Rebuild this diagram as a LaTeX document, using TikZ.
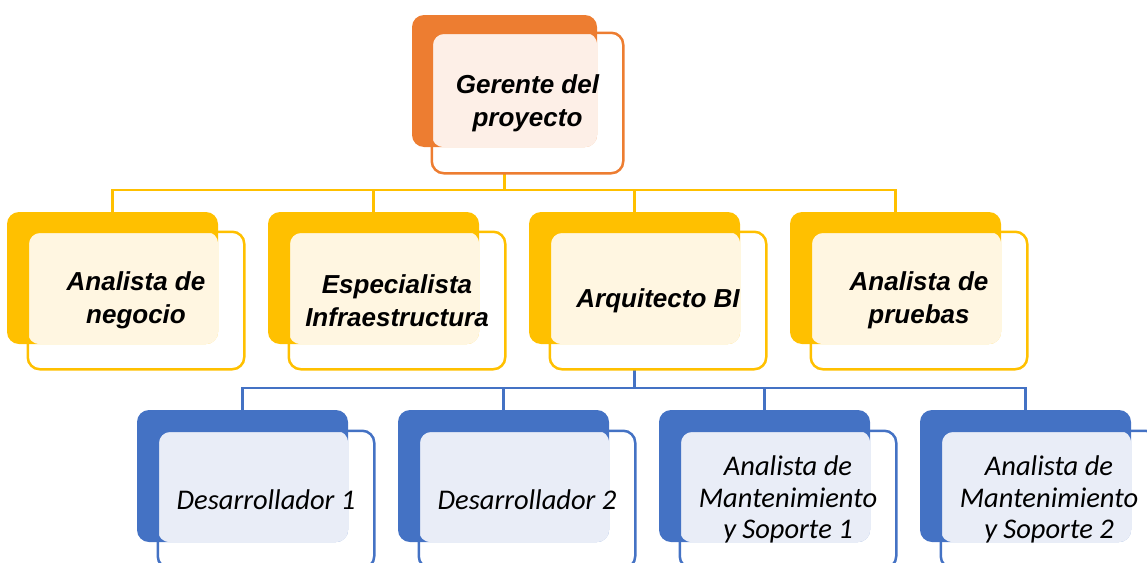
\documentclass[tikz,border=0pt]{standalone}
\usepackage{fontspec}
\usepackage{tikz}
\newfontfamily\headfont{Liberation Sans}
\newfontfamily\staffont{Carlito}
\definecolor{orgdark}{HTML}{ED7D31}
\definecolor{orglight}{HTML}{FDEFE7}
\definecolor{ylwdark}{HTML}{FFC000}
\definecolor{ylwlight}{HTML}{FFF6E1}
\definecolor{bludark}{HTML}{4472C4}
\definecolor{blulight}{HTML}{E9EDF7}
\tikzstyle{back}=[rectangle,rounded corners=12pt,minimum width=211pt,minimum height=132pt,inner sep=0pt]
\tikzstyle{front}=[rectangle,rounded corners=12pt,line width=2.5pt,minimum width=214pt,minimum height=135pt,inner sep=4pt,align=center]
\tikzstyle{headtext}=[font=\headfont\bfseries\itshape\fontsize{26}{33}\selectfont]
\tikzstyle{stafftext}=[font=\staffont\itshape\fontsize{28.5}{31.5}\selectfont]
\tikzstyle{yline}=[draw=ylwdark,line width=2.6pt]
\tikzstyle{bline}=[draw=bludark,line width=2.6pt]

\begin{document}
\begin{tikzpicture}[x=1pt,y=-1pt]
        \useasboundingbox (0,0) rectangle (1147,562);
        \clip (0,0) rectangle (1147,562);

        % back boxes
        \node at (504.5,81) [back,fill=orgdark,minimum width=185pt] (gpB) {};
        \node at (112.5,278) [back,fill=ylwdark] (anB) {};
        \node at (373.5,278) [back,fill=ylwdark] (esB) {};
        \node at (634.5,278) [back,fill=ylwdark] (arB) {};
        \node at (895.5,278) [back,fill=ylwdark] (apB) {};
        \node at (242.5,476) [back,fill=bludark] (d1B) {};
        \node at (503.5,476) [back,fill=bludark] (d2B) {};
        \node at (764.5,476) [back,fill=bludark] (m1B) {};
        \node at (1025.5,476) [back,fill=bludark] (m2B) {};

        % front boxes (outline only, text later)
        \node at (527.5,103) [front,minimum width=189pt,minimum height=138pt] (gpF) {};
        \node at (136,300.5) [front] (anF) {};
        \node at (397,300.5) [front] (esF) {};
        \node at (658,300.5) [front] (arF) {};
        \node at (919,300.5) [front] (apF) {};
        \node at (266,499.5) [front] (d1F) {};
        \node at (527,499.5) [front] (d2F) {};
        \node at (788,499.5) [front] (m1F) {};
        \node at (1049,499.5) [front] (m2F) {};

        % light overlap areas
        \fill [orglight,rounded corners=12pt] (gpF.north west) rectangle (gpB.south east);
        \fill [ylwlight,rounded corners=12pt] (anF.north west) rectangle (anB.south east);
        \fill [ylwlight,rounded corners=12pt] (esF.north west) rectangle (esB.south east);
        \fill [ylwlight,rounded corners=12pt] (arF.north west) rectangle (arB.south east);
        \fill [ylwlight,rounded corners=12pt] (apF.north west) rectangle (apB.south east);
        \fill [blulight,rounded corners=12pt] (d1F.north west) rectangle (d1B.south east);
        \fill [blulight,rounded corners=12pt] (d2F.north west) rectangle (d2B.south east);
        \fill [blulight,rounded corners=12pt] (m1F.north west) rectangle (m1B.south east);
        \fill [blulight,rounded corners=12pt] (m2F.north west) rectangle (m2B.south east);

        % connectors
        \coordinate (busA) at (504.5,190);
        \coordinate (busB) at (634.5,388);
        \draw [yline] (gpB |- gpF.south) -- (busA);
        \draw [yline] (busA) -| (anB.north);
        \draw [yline] (busA) -| (esB.north);
        \draw [yline] (busA) -| (arB.north);
        \draw [yline] (busA) -| (apB.north);
        \draw [bline] (arB |- arF.south) -- (busB);
        \draw [bline] (busB) -| (d1B.north);
        \draw [bline] (busB) -| (d2B.north);
        \draw [bline] (busB) -| (m1B.north);
        \draw [bline] (busB) -| (m2B.north);

        % outlines and texts
        \draw [orgdark,line width=2.5pt,rounded corners=12pt] (gpF.north west) rectangle (gpF.south east);
        \draw [ylwdark,line width=2.5pt,rounded corners=12pt] (anF.north west) rectangle (anF.south east);
        \draw [ylwdark,line width=2.5pt,rounded corners=12pt] (esF.north west) rectangle (esF.south east);
        \draw [ylwdark,line width=2.5pt,rounded corners=12pt] (arF.north west) rectangle (arF.south east);
        \draw [ylwdark,line width=2.5pt,rounded corners=12pt] (apF.north west) rectangle (apF.south east);
        \draw [bludark,line width=2.5pt,rounded corners=12pt] (d1F.north west) rectangle (d1F.south east);
        \draw [bludark,line width=2.5pt,rounded corners=12pt] (d2F.north west) rectangle (d2F.south east);
        \draw [bludark,line width=2.5pt,rounded corners=12pt] (m1F.north west) rectangle (m1F.south east);
        \draw [bludark,line width=2.5pt,rounded corners=12pt] (m2F.north west) rectangle (m2F.south east);

        \node at (gpF) [headtext,align=center] (gpT) {Gerente del\\proyecto};
        \node at (anF) [headtext,align=center] (anT) {Analista de\\negocio};
        \node at (esF) [headtext,align=center] (esT) {Especialista\\Infraestructura};
        \node at (arF) [headtext,align=center] (arT) {Arquitecto BI};
        \node at (apF) [headtext,align=center] (apT) {Analista de\\pruebas};
        \node at (d1F) [stafftext,align=center] (d1T) {Desarrollador 1};
        \node at (d2F) [stafftext,align=center] (d2T) {Desarrollador 2};
        \node at (m1F) [stafftext,align=center] (m1T) {Analista de\\Mantenimiento\\y Soporte 1};
        \node at (m2F) [stafftext,align=center] (m2T) {Analista de\\Mantenimiento\\y Soporte 2};
      \end{tikzpicture}
\end{document}
